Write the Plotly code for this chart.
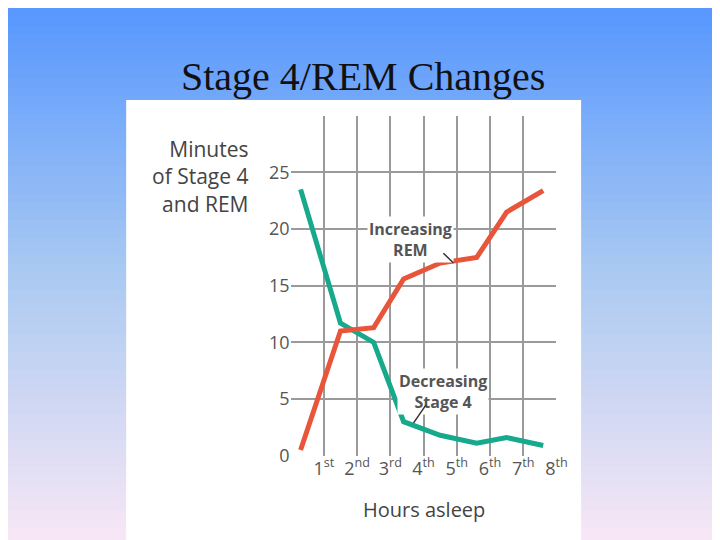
import plotly.graph_objects as go

# hours asleep (position along x) and minutes
hours = [0.3, 1.5, 2.5, 3.4, 4.5, 5.6, 6.5, 7.6]
rem = [0.5, 11.0, 11.3, 15.6, 17.0, 17.5, 21.5, 23.4]
stage4 = [23.5, 11.7, 10.0, 3.0, 1.8, 1.1, 1.6, 0.9]
tick_vals = [1, 2, 3, 4, 5, 6, 7, 8]
tick_text = ["1<sup>st</sup>", "2<sup>nd</sup>", "3<sup>rd</sup>", "4<sup>th</sup>",
             "5<sup>th</sup>", "6<sup>th</sup>", "7<sup>th</sup>", "8<sup>th</sup>"]

fig = go.Figure()
fig.add_trace(go.Scatter(x=hours, y=stage4, mode="lines", line=dict(color="#17A98C", width=5)))
fig.add_trace(go.Scatter(x=hours, y=rem, mode="lines", line=dict(color="#E8553A", width=5)))

# gradient background in stripes (overlapping so no seams show)
shapes = []
n = 60
top, mid, bot = (88, 152, 255), (170, 202, 242), (246, 230, 246)
for i in range(n):
    t = i / (n - 1)
    if t < 0.5:
        a, b, u = top, mid, t / 0.5
    else:
        a, b, u = mid, bot, (t - 0.5) / 0.5
    c = tuple(int(a[k] + (b[k] - a[k]) * u) for k in range(3))
    shapes.append(dict(type="rect", xref="paper", yref="paper", x0=-0.01, x1=1.01,
                       y0=max(-0.01, 1 - (i + 1.6) / n), y1=1.01 - i / n if i == 0 else 1 - i / n,
                       line=dict(width=0), fillcolor="rgb(%d,%d,%d)" % c, layer="below"))
# white panel
shapes.append(dict(type="rect", xref="paper", yref="paper", x0=120 / 720, x1=582 / 720,
                   y0=-0.01, y1=1 - 94 / 540, line=dict(width=0), fillcolor="white", layer="below"))

sans = "Open Sans"
fig.update_layout(
    width=720, height=540, margin=dict(l=0, r=0, t=0, b=0),
    paper_bgcolor="white", plot_bgcolor="white", showlegend=False, shapes=shapes,
    xaxis=dict(domain=[287 / 720, 557 / 720], range=[0, 8], dtick=1, showgrid=True,
               gridcolor="#9a9a9a", gridwidth=1.5, zeroline=False, showline=False,
               tickmode="array", tickvals=tick_vals, ticktext=tick_text,
               tickfont=dict(family=sans, size=18, color="#555"), ticks=""),
    yaxis=dict(domain=[1 - 457 / 540, 1 - 110 / 540], range=[0, 30], dtick=5,
               showgrid=True, gridcolor="#9a9a9a", gridwidth=1.5, zeroline=False,
               tickvals=[0, 5, 10, 15, 20, 25],
               tickfont=dict(family=sans, size=18, color="#555"), ticks=""),
    annotations=[
        dict(text="Stage 4/REM Changes", xref="paper", yref="paper", x=0.5, y=1 - 70 / 540,
             yanchor="middle", showarrow=False,
             font=dict(family="Liberation Serif", size=40, color="#111")),
        dict(text="Minutes<br>of Stage 4<br>and REM", xref="paper", yref="paper",
             x=246 / 720, y=1 - 172 / 540, xanchor="right", yanchor="middle", align="right",
             showarrow=False, font=dict(family=sans, size=21, color="#444")),
        dict(text="Hours asleep", xref="paper", yref="paper", x=422 / 720, y=1 - 512 / 540,
             yanchor="middle", showarrow=False, font=dict(family=sans, size=20, color="#444")),
        dict(text="<b>Increasing<br>REM</b>", x=3.6, y=19.1, showarrow=False,
             bgcolor="white", font=dict(family=sans, size=16, color="#555")),
        dict(text="<b>Decreasing<br>Stage 4</b>", x=4.6, y=5.7, showarrow=False,
             bgcolor="white", font=dict(family=sans, size=16, color="#555")),
        dict(x=4.9, y=17.0, ax=4.55, ay=18.0, axref="x", ayref="y", text="",
             showarrow=True, arrowhead=0, arrowwidth=1.5, arrowcolor="#333"),
        dict(x=3.7, y=2.9, ax=4.1, ay=4.6, axref="x", ayref="y", text="",
             showarrow=True, arrowhead=0, arrowwidth=1.5, arrowcolor="#333"),
    ],
)
fig.write_html("out.html")
